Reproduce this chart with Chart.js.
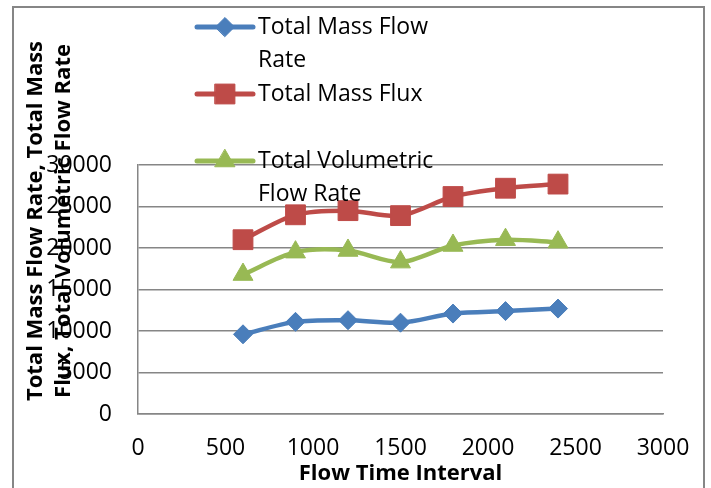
<!DOCTYPE html>
<html>
<head>
<meta charset="utf-8">
<script src="https://cdn.jsdelivr.net/npm/chart.js@4.4.1/dist/chart.umd.min.js"></script>
<style>
html,body{margin:0;padding:0;background:#fff;}
#wrap{width:711px;height:488px;position:relative;}
</style>
</head>
<body>
<div id="wrap"><canvas id="c" width="711" height="488"></canvas></div>
<script>
// ---- data ----
const flowTime = [600, 900, 1200, 1500, 1800, 2100, 2400];
const totalMassFlowRate = [9600, 11100, 11300, 11000, 12100, 12400, 12700];
const totalMassFlux = [21000, 24000, 24500, 23900, 26200, 27200, 27700];
const totalVolumetricFlowRate = [16800, 19500, 19700, 18300, 20300, 21000, 20700];
const seriesNames = ['Total Mass Flow Rate', 'Total Mass Flux', 'Total Volumetric Flow Rate'];
const xTicks = [0, 500, 1000, 1500, 2000, 2500, 3000];
const yTicks = [0, 5000, 10000, 15000, 20000, 25000, 30000];
const xTitle = 'Flow Time Interval';
const yTitleLines = ['Total Mass Flow Rate, Total Mass', 'Flux, Total Volumetric Flow Rate'];

const FONT = '"Open Sans", "Noto Sans", sans-serif';
const GRID = '#868686';

function pts(ys) { return flowTime.map((x, i) => ({ x: x, y: ys[i] })); }

const bgPlugin = {
  id: 'bgBorder',
  beforeDraw(chart) {
    const ctx = chart.ctx;
    ctx.save();
    ctx.fillStyle = '#fff';
    ctx.fillRect(0, 0, chart.width, chart.height);
    ctx.strokeStyle = GRID;
    ctx.lineWidth = 2;
    ctx.strokeRect(13, 7, 691, 520);
    ctx.restore();
  }
};

function wrapText(ctx, text, maxW) {
  const words = text.split(' ');
  const lines = [];
  let cur = '';
  words.forEach(w => {
    const t = cur ? cur + ' ' + w : w;
    if (ctx.measureText(t).width > maxW && cur) { lines.push(cur); cur = w; }
    else cur = t;
  });
  if (cur) lines.push(cur);
  return lines;
}

const legendPlugin = {
  id: 'excelLegend',
  afterDatasetsDraw(chart) {
    const ctx = chart.ctx;
    ctx.save();
    chart.data.datasets.forEach((ds, i) => {
      const y0 = 27 + 67 * i;
      ctx.strokeStyle = ds.borderColor;
      ctx.lineWidth = 5;
      ctx.lineCap = 'round';
      ctx.beginPath();
      ctx.moveTo(197, y0);
      ctx.lineTo(253, y0);
      ctx.stroke();
      ctx.fillStyle = ds.backgroundColor;
      ctx.strokeStyle = ds.borderColor;
      ctx.lineWidth = 1;
      Chart.helpers.drawPoint(ctx, { pointStyle: ds.pointStyle, radius: ds.pointRadius, borderWidth: 1, rotation: 0 }, 225, y0);
      ctx.font = '23px ' + FONT;
      ctx.fillStyle = '#000';
      ctx.textAlign = 'left';
      ctx.textBaseline = 'middle';
      const lines = wrapText(ctx, ds.label, 185);
      lines.forEach((ln, j) => ctx.fillText(ln, 258, y0 + 33 * j));
    });
    ctx.restore();
  },
  afterDraw(chart) {
    const ctx = chart.ctx;
    ctx.save();
    ctx.font = 'bold 22px ' + FONT;
    ctx.fillStyle = '#000';
    ctx.textAlign = 'center';
    ctx.textBaseline = 'middle';
    ctx.translate(0, 221);
    ctx.rotate(-Math.PI / 2);
    ctx.fillText(yTitleLines[0], 0, 36);
    ctx.fillText(yTitleLines[1], 0, 64);
    ctx.restore();
  }
};

const common = { borderWidth: 4.5, tension: 0.3, pointBorderWidth: 1, pointHoverRadius: 0, fill: false };
const plain = v => String(v);

new Chart(document.getElementById('c'), {
  type: 'line',
  data: {
    datasets: [
      Object.assign({ label: seriesNames[0], data: pts(totalMassFlowRate), borderColor: '#4A7EBB', backgroundColor: '#4A7EBB', pointBackgroundColor: '#4A7EBB', pointStyle: 'rectRot', pointRadius: 9.5 }, common),
      Object.assign({ label: seriesNames[1], data: pts(totalMassFlux), borderColor: '#BE4B48', backgroundColor: '#BE4B48', pointBackgroundColor: '#BE4B48', pointStyle: 'rect', pointRadius: 14 }, common),
      Object.assign({ label: seriesNames[2], data: pts(totalVolumetricFlowRate), borderColor: '#98B954', backgroundColor: '#98B954', pointBackgroundColor: '#98B954', pointStyle: 'triangle', pointRadius: 11.5 }, common)
    ]
  },
  options: {
    responsive: false,
    animation: false,
    events: [],
    layout: { padding: { top: 165, right: 48, left: 0, bottom: 0 } },
    plugins: { legend: { display: false }, tooltip: { enabled: false } },
    scales: {
      x: {
        type: 'linear', min: 0, max: 3000,
        afterBuildTicks: s => { s.ticks = xTicks.map(v => ({ value: v })); },
        afterFit: s => { s.height = 74; },
        grid: { display: false, drawTicks: false },
        border: { display: true, color: GRID, width: 1.5 },
        ticks: { padding: 21, color: '#000', maxRotation: 0, font: { family: FONT, size: 23 }, callback: plain },
        title: { display: true, text: xTitle, color: '#000', font: { family: FONT, size: 22, weight: 'bold' }, padding: { top: 0, bottom: 1 } }
      },
      y: {
        type: 'linear', min: 0, max: 30000,
        afterBuildTicks: s => { s.ticks = yTicks.map(v => ({ value: v })); },
        afterFit: s => { s.width = 138; },
        grid: { color: GRID, lineWidth: 1.5, drawTicks: false },
        border: { display: true, color: GRID, width: 1.5 },
        ticks: { padding: 26, color: '#000', font: { family: FONT, size: 23 }, callback: plain }
      }
    }
  },
  plugins: [bgPlugin, legendPlugin]
});
</script>
</body>
</html>
